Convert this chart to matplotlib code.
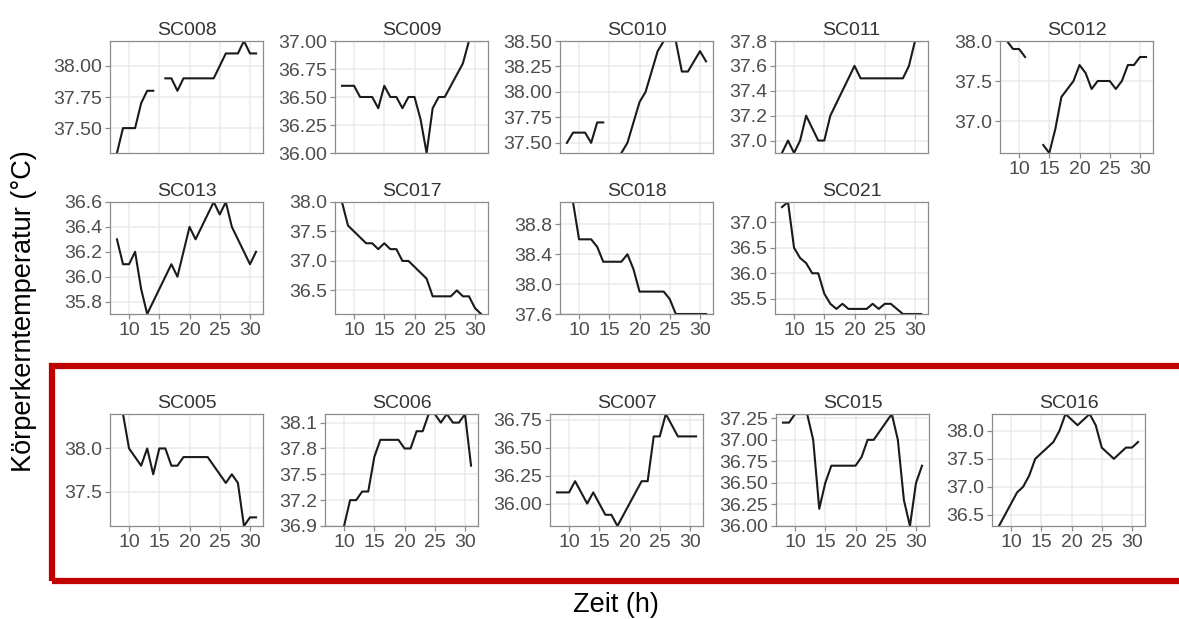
import numpy as np
import matplotlib
matplotlib.use('Agg')
import matplotlib.pyplot as plt
from matplotlib.patches import Rectangle

plt.rcParams['font.family'] = ['Liberation Sans', 'DejaVu Sans']

nan = np.nan

# Zeit (h)
zeit = [8, 9, 10, 11, 12, 13, 14, 15, 16, 17, 18, 19,
        20, 21, 22, 23, 24, 25, 26, 27, 28, 29, 30, 31]

# Körperkerntemperatur je Tier (°C), NaN = fehlender Messwert
sc008 = [37.3, 37.5, 37.5, 37.5, 37.7, 37.8, 37.8, nan, 37.9, 37.9, 37.8, 37.9,
         37.9, 37.9, 37.9, 37.9, 37.9, 38.0, 38.1, 38.1, 38.1, 38.2, 38.1, 38.1]
sc009 = [36.6, 36.6, 36.6, 36.5, 36.5, 36.5, 36.4, 36.6, 36.5, 36.5, 36.4, 36.5,
         36.5, 36.3, 36.0, 36.4, 36.5, 36.5, 36.6, 36.7, 36.8, 37.0, 37.0, 37.0]
sc010 = [37.5, 37.6, 37.6, 37.6, 37.5, 37.7, 37.7, nan, nan, 37.4, 37.5, 37.7,
         37.9, 38.0, 38.2, 38.4, 38.5, 38.5, 38.5, 38.2, 38.2, 38.3, 38.4, 38.3]
sc011 = [36.9, 37.0, 36.9, 37.0, 37.2, 37.1, 37.0, 37.0, 37.2, 37.3, 37.4, 37.5,
         37.6, 37.5, 37.5, 37.5, 37.5, 37.5, 37.5, 37.5, 37.5, 37.6, 37.8, 37.8]
sc012 = [38.0, 37.9, 37.9, 37.8, nan, nan, 36.7, 36.6, 36.9, 37.3, 37.4, 37.5,
         37.7, 37.6, 37.4, 37.5, 37.5, 37.5, 37.4, 37.5, 37.7, 37.7, 37.8, 37.8]
sc013 = [36.3, 36.1, 36.1, 36.2, 35.9, 35.7, 35.8, 35.9, 36.0, 36.1, 36.0, 36.2,
         36.4, 36.3, 36.4, 36.5, 36.6, 36.5, 36.6, 36.4, 36.3, 36.2, 36.1, 36.2]
sc017 = [38.0, 37.6, 37.5, 37.4, 37.3, 37.3, 37.2, 37.3, 37.2, 37.2, 37.0, 37.0,
         36.9, 36.8, 36.7, 36.4, 36.4, 36.4, 36.4, 36.5, 36.4, 36.4, 36.2, 36.1]
sc018 = [nan, 39.1, 38.6, 38.6, 38.6, 38.5, 38.3, 38.3, 38.3, 38.3, 38.4, 38.2,
         37.9, 37.9, 37.9, 37.9, 37.9, 37.8, 37.6, 37.6, 37.6, 37.6, 37.6, 37.6]
sc021 = [37.3, 37.4, 36.5, 36.3, 36.2, 36.0, 36.0, 35.6, 35.4, 35.3, 35.4, 35.3,
         35.3, 35.3, 35.3, 35.4, 35.3, 35.4, 35.4, 35.3, 35.2, 35.2, 35.2, 35.2]
sc005 = [nan, 38.4, 38.0, 37.9, 37.8, 38.0, 37.7, 38.0, 38.0, 37.8, 37.8, 37.9,
         37.9, 37.9, 37.9, 37.9, 37.8, 37.7, 37.6, 37.7, 37.6, 37.1, 37.2, 37.2]
sc006 = [nan, nan, 36.9, 37.2, 37.2, 37.3, 37.3, 37.7, 37.9, 37.9, 37.9, 37.9,
         37.8, 37.8, 38.0, 38.0, 38.2, 38.2, 38.1, 38.2, 38.1, 38.1, 38.2, 37.6]
sc007 = [36.1, 36.1, 36.1, 36.2, 36.1, 36.0, 36.1, 36.0, 35.9, 35.9, 35.8, 35.9,
         36.0, 36.1, 36.2, 36.2, 36.6, 36.6, 36.8, 36.7, 36.6, 36.6, 36.6, 36.6]
sc015 = [37.2, 37.2, 37.3, 37.3, 37.3, 37.0, 36.2, 36.5, 36.7, 36.7, 36.7, 36.7,
         36.7, 36.8, 37.0, 37.0, 37.1, 37.2, 37.3, 37.0, 36.3, 36.0, 36.5, 36.7]
sc016 = [36.3, 36.5, 36.7, 36.9, 37.0, 37.2, 37.5, 37.6, 37.7, 37.8, 38.0, 38.3,
         38.2, 38.1, 38.2, 38.3, 38.1, 37.7, 37.6, 37.5, 37.6, 37.7, 37.7, 37.8]

# y-Achsenbeschriftungen je Panel
yt_sc008 = [37.50, 37.75, 38.00]
yt_sc009 = [36.00, 36.25, 36.50, 36.75, 37.00]
yt_sc010 = [37.50, 37.75, 38.00, 38.25, 38.50]
yt_sc011 = [37.0, 37.2, 37.4, 37.6, 37.8]
yt_sc012 = [37.0, 37.5, 38.0]
yt_sc013 = [35.8, 36.0, 36.2, 36.4, 36.6]
yt_sc017 = [36.5, 37.0, 37.5, 38.0]
yt_sc018 = [37.6, 38.0, 38.4, 38.8]
yt_sc021 = [35.5, 36.0, 36.5, 37.0]
yt_sc005 = [37.5, 38.0]
yt_sc006 = [36.9, 37.2, 37.5, 37.8, 38.1]
yt_sc007 = [36.00, 36.25, 36.50, 36.75]
yt_sc015 = [36.00, 36.25, 36.50, 36.75, 37.00, 37.25]
yt_sc016 = [36.5, 37.0, 37.5, 38.0]
xt = [10, 15, 20, 25, 30]

W, H = 1179, 619
PW, PH = 153, 112
GREY_TXT = '#4D4D4D'
BORDER = '#8C8C8C'

fig = plt.figure(figsize=(W / 100, H / 100), dpi=100)


def panel(name, werte, yticks, fmt, left, top, show_x):
    ax = fig.add_axes([left / W, 1 - (top + PH) / H, PW / W, PH / H])
    ax.plot(zeit, werte, color='#1A1A1A', lw=1.5)
    ax.set_xlim(6.85, 32.15)
    ax.set_ylim(np.nanmin(werte), np.nanmax(werte))
    ax.set_xticks(xt)
    ax.set_yticks(yticks)
    ax.set_yticklabels([fmt.format(v) for v in yticks])
    ax.grid(True, color='#EBEBEB', lw=1.1)
    ax.set_axisbelow(True)
    for s in ax.spines.values():
        s.set_color(BORDER)
        s.set_linewidth(0.9)
    ax.tick_params(colors=BORDER, labelcolor=GREY_TXT, labelsize=14,
                   length=3.5, width=0.9, pad=2)
    if not show_x:
        ax.tick_params(axis='x', bottom=False, labelbottom=False)
    ax.set_title(name, fontsize=14, color='#333333', pad=4)
    return ax


row1, row2, row3 = 41, 202, 414
cols = [110, 335, 560, 775, 1000]
cols3 = [110, 325, 550, 776, 992]

panel('SC008', sc008, yt_sc008, '{:.2f}', cols[0], row1, False)
panel('SC009', sc009, yt_sc009, '{:.2f}', cols[1], row1, False)
panel('SC010', sc010, yt_sc010, '{:.2f}', cols[2], row1, False)
panel('SC011', sc011, yt_sc011, '{:.1f}', cols[3], row1, False)
panel('SC012', sc012, yt_sc012, '{:.1f}', cols[4], row1, True)

panel('SC013', sc013, yt_sc013, '{:.1f}', cols[0], row2, True)
panel('SC017', sc017, yt_sc017, '{:.1f}', cols[1], row2, True)
panel('SC018', sc018, yt_sc018, '{:.1f}', cols[2], row2, True)
panel('SC021', sc021, yt_sc021, '{:.1f}', cols[3], row2, True)

panel('SC005', sc005, yt_sc005, '{:.1f}', cols3[0], row3, True)
panel('SC006', sc006, yt_sc006, '{:.1f}', cols3[1], row3, True)
panel('SC007', sc007, yt_sc007, '{:.2f}', cols3[2], row3, True)
panel('SC015', sc015, yt_sc015, '{:.2f}', cols3[3], row3, True)
panel('SC016', sc016, yt_sc016, '{:.1f}', cols3[4], row3, True)

# roter Rahmen um die untere Reihe
fig.patches.append(Rectangle((52 / W, 1 - 580.5 / H), (1200 - 52) / W, (580.5 - 366) / H,
                             transform=fig.transFigure, fill=False,
                             edgecolor='#C00000', lw=4.5))

fig.text(24 / W, 1 - 311 / H, 'Körperkerntemperatur (°C)', rotation=90,
         ha='center', va='center', fontsize=19.5, color='black')
fig.text(616 / W, 1 - 605 / H, 'Zeit (h)', ha='center', va='center',
         fontsize=19.5, color='black')

fig.savefig('out.png', dpi=100)
